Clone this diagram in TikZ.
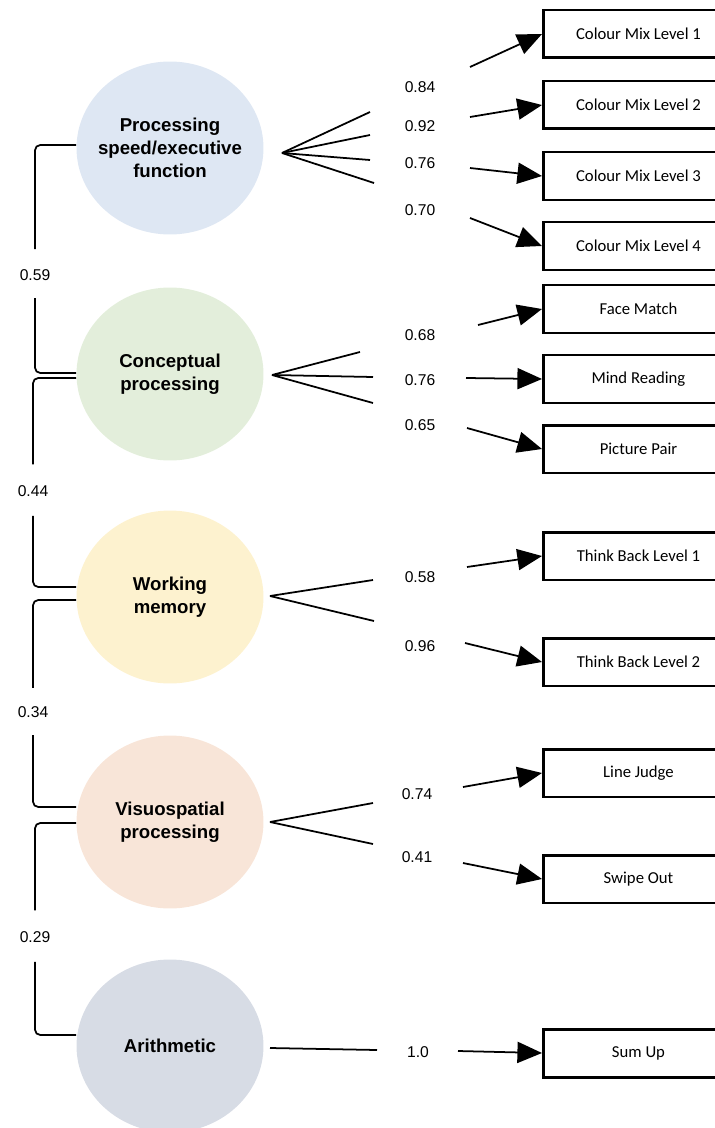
\documentclass[tikz,border=0pt]{standalone}
\usepackage{fontspec}
\setmainfont{Liberation Sans}
\newfontfamily\taskfont{Carlito}
\usetikzlibrary{calc}
\usetikzlibrary{arrows.meta}
\usetikzlibrary{shapes.geometric}

\definecolor{psblue}{HTML}{DEE7F3}
\definecolor{cpgreen}{HTML}{E3EEDB}
\definecolor{wmyellow}{HTML}{FDF2CF}
\definecolor{vppeach}{HTML}{F8E5D8}
\definecolor{argrey}{HTML}{D7DCE5}

\begin{document}
\begin{tikzpicture}[x=0.02cm, y=-0.02cm,
    factor/.style={ellipse, minimum width=3.74cm, minimum height=3.46cm, inner sep=0pt},
    factorname/.style={font=\fontsize{10.6}{13}\selectfont\bfseries, align=center},
    task/.style={draw, line width=1.7pt, minimum width=3.8cm, minimum height=0.96cm,
        anchor=west, inner sep=0pt, font=\taskfont\fontsize{9.5}{11}\selectfont},
    weight/.style={font=\fontsize{8.9}{10}\selectfont},
    fan/.style={line width=1pt},
    loadarrow/.style={line width=1pt, -{Triangle[length=14pt,width=12pt]}},
    bracket/.style={line width=1pt, rounded corners=3pt}
]
    \useasboundingbox (0, 0) rectangle (715, 1128);

    % factors
    \node[factor, fill=psblue, label={[factorname]center:Processing\\speed/executive\\function}] (ps) at (170, 148) {};
    \node[factor, fill=cpgreen, label={[factorname]center:Conceptual\\processing}] (cp) at (170, 374) {};
    \node[factor, fill=wmyellow, label={[factorname]center:Working\\memory}] (wm) at (170, 597) {};
    \node[factor, fill=vppeach, label={[factorname]center:Visuospatial\\processing}] (vp) at (170, 822) {};
    \node[factor, fill=argrey, label={[factorname]center:Arithmetic}] (ar) at (170, 1046) {};

    % correlations between factors
    \node[weight] (r59) at (35, 275) {0.59};
    \node[weight] (r44) at (33, 491) {0.44};
    \node[weight] (r34) at (33, 712) {0.34};
    \node[weight] (r29) at (35, 937) {0.29};
    \draw[bracket, shorten >=8pt] ($(ps.west)+(0,-3)$) -| (r59.north);
    \draw[bracket, shorten <=6.5pt] (r59.south) |- ($(cp.west)+(0,-1)$);
    \draw[bracket, shorten >=8.5pt] ($(cp.west)+(0,4)$) -| (r44.north);
    \draw[bracket, shorten <=7.5pt] (r44.south) |- ($(wm.west)+(0,-10)$);
    \draw[bracket, shorten >=7pt] ($(wm.west)+(0,3)$) -| (r34.north);
    \draw[bracket, shorten <=6.5pt] (r34.south) |- ($(vp.west)+(0,-15)$);
    \draw[bracket, shorten >=8.5pt] ($(vp.west)+(0,1)$) -| (r29.north);
    \draw[bracket, shorten <=7.5pt] (r29.south) |- ($(ar.west)+(0,-11)$);

    % tasks
    \node[task] (cm1) at (542, 34) {Colour Mix Level 1};
    \node[task] (cm2) at (542, 105) {Colour Mix Level 2};
    \node[task] (cm3) at (542, 176) {Colour Mix Level 3};
    \node[task] (cm4) at (542, 246) {Colour Mix Level 4};
    \node[task] (fm) at (542, 309) {Face Match};
    \node[task] (mr) at (542, 379) {Mind Reading};
    \node[task] (pp) at (542, 449) {Picture Pair};
    \node[task] (tb1) at (542, 556) {Think Back Level 1};
    \node[task] (tb2) at (542, 662) {Think Back Level 2};
    \node[task] (lj) at (542, 773) {Line Judge};
    \node[task] (so) at (542, 879) {Swipe Out};
    \node[task] (su) at (542, 1053) {Sum Up};

    % processing speed/executive function
    \coordinate (psr) at (282, 153);
    \draw[fan] (psr) -- (370, 112);
    \draw[fan] (psr) -- (370, 135);
    \draw[fan] (psr) -- (370, 160);
    \draw[fan] (psr) -- (374, 183);
    \node[weight] (w84) at (420, 87) {0.84};
    \node[weight] (w92) at (420, 126) {0.92};
    \node[weight] (w76a) at (420, 163) {0.76};
    \node[weight] (w70) at (420, 210) {0.70};
    \coordinate (s1) at (470, 67);
    \coordinate (s2) at (470, 117);
    \coordinate (s3) at (470, 168);
    \coordinate (s4) at (470, 218);
    \draw[loadarrow] (s1) -- (cm1.west);
    \draw[loadarrow] (s2) -- (cm2.west);
    \draw[loadarrow] (s3) -- (cm3.west);
    \draw[loadarrow] (s4) -- (cm4.west);

    % conceptual processing
    \coordinate (cpr) at (272, 375);
    \draw[fan] (cpr) -- (360, 352);
    \draw[fan] (cpr) -- (373, 377);
    \draw[fan] (cpr) -- (373, 403);
    \node[weight] (w68) at (420, 335) {0.68};
    \node[weight] (w76b) at (420, 380) {0.76};
    \node[weight] (w65) at (420, 425) {0.65};
    \coordinate (s5) at (478, 325);
    \coordinate (s6) at (466, 378);
    \coordinate (s7) at (467, 428);
    \draw[loadarrow] (s5) -- (fm.west);
    \draw[loadarrow] (s6) -- (mr.west);
    \draw[loadarrow] (s7) -- (pp.west);

    % working memory
    \coordinate (wmr) at (270, 596);
    \draw[fan] (wmr) -- (373, 580);
    \draw[fan] (wmr) -- (374, 621);
    \node[weight] (w58) at (420, 577) {0.58};
    \node[weight] (w96) at (420, 646) {0.96};
    \coordinate (s8) at (467, 567);
    \coordinate (s9) at (465, 643);
    \draw[loadarrow] (s8) -- (tb1.west);
    \draw[loadarrow] (s9) -- (tb2.west);

    % visuospatial processing
    \coordinate (vpr) at (270, 822);
    \draw[fan] (vpr) -- (373, 803);
    \draw[fan] (vpr) -- (373, 844);
    \node[weight] (w74) at (417, 794) {0.74};
    \node[weight] (w41) at (417, 857) {0.41};
    \coordinate (s10) at (463, 787);
    \coordinate (s11) at (463, 863);
    \draw[loadarrow] (s10) -- (lj.west);
    \draw[loadarrow] (s11) -- (so.west);

    % arithmetic
    \coordinate (arr) at (270, 1048);
    \draw[fan] (arr) -- (377, 1050);
    \node[weight] (w10) at (418, 1052) {1.0};
    \coordinate (s12) at (458, 1051);
    \draw[loadarrow] (s12) -- (su.west);
\end{tikzpicture}
\end{document}
